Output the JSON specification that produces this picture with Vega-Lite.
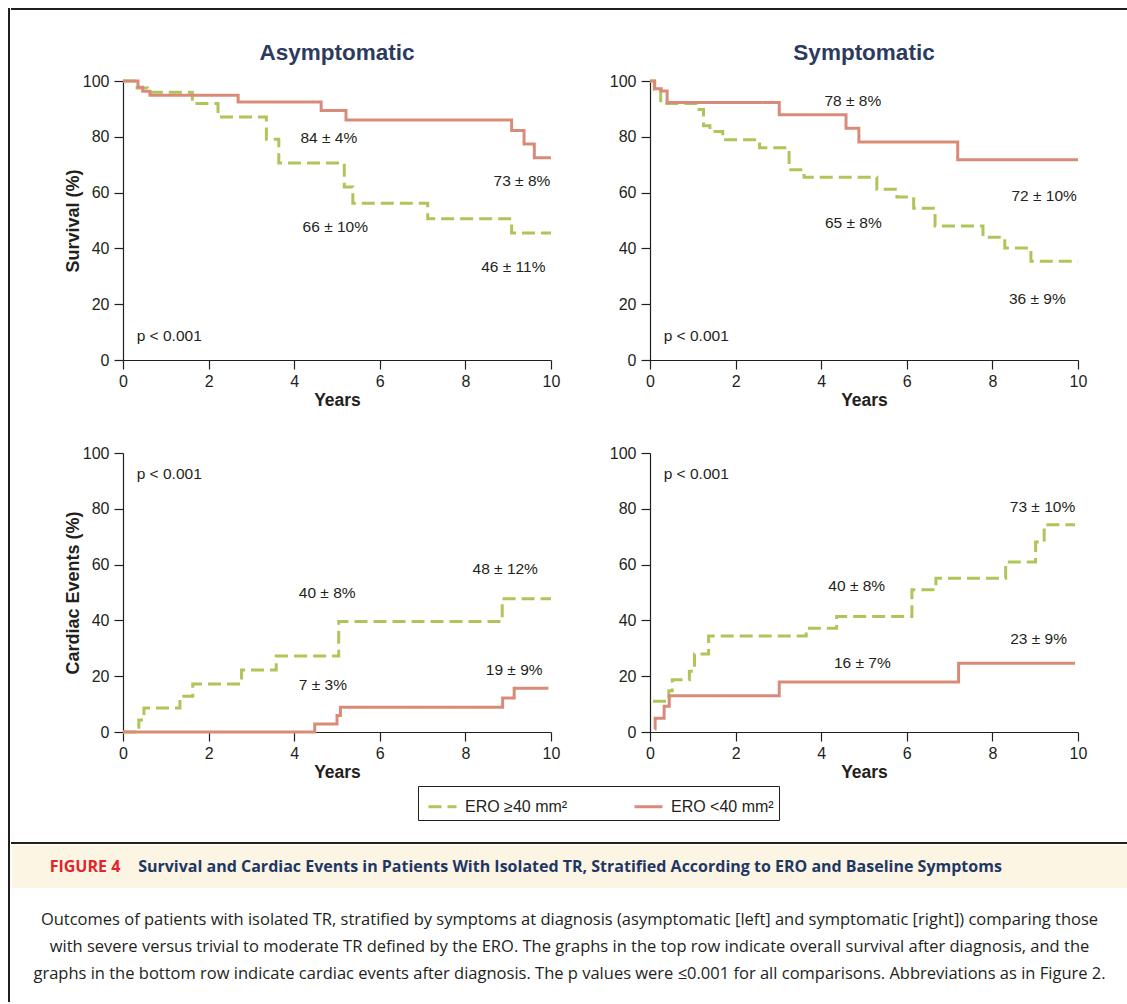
{
  "$schema": "https://vega.github.io/schema/vega-lite/v6.json",
  "background": "white",
  "padding": {"left": 8, "top": 8, "right": 0, "bottom": 0},
  "datasets": {
    "curves": [
      {"p":"TL","group":"ERO ≥40 mm²","t":0,"v":100},{"p":"TL","group":"ERO ≥40 mm²","t":0.33,"v":97.5},{"p":"TL","group":"ERO ≥40 mm²","t":0.57,"v":96.0},{"p":"TL","group":"ERO ≥40 mm²","t":1.62,"v":91.9},{"p":"TL","group":"ERO ≥40 mm²","t":2.22,"v":87.1},{"p":"TL","group":"ERO ≥40 mm²","t":3.35,"v":79.1},{"p":"TL","group":"ERO ≥40 mm²","t":3.64,"v":70.6},{"p":"TL","group":"ERO ≥40 mm²","t":5.17,"v":62.0},{"p":"TL","group":"ERO ≥40 mm²","t":5.37,"v":56.2},{"p":"TL","group":"ERO ≥40 mm²","t":7.12,"v":50.6},{"p":"TL","group":"ERO ≥40 mm²","t":9.08,"v":45.5},{"p":"TL","group":"ERO ≥40 mm²","t":10,"v":45.5},
      {"p":"TL","group":"ERO <40 mm²","t":0,"v":100},{"p":"TL","group":"ERO <40 mm²","t":0.35,"v":97.8},{"p":"TL","group":"ERO <40 mm²","t":0.46,"v":96.3},{"p":"TL","group":"ERO <40 mm²","t":0.63,"v":94.9},{"p":"TL","group":"ERO <40 mm²","t":2.69,"v":92.5},{"p":"TL","group":"ERO <40 mm²","t":4.63,"v":89.4},{"p":"TL","group":"ERO <40 mm²","t":5.21,"v":86.0},{"p":"TL","group":"ERO <40 mm²","t":9.08,"v":82.3},{"p":"TL","group":"ERO <40 mm²","t":9.37,"v":77.4},{"p":"TL","group":"ERO <40 mm²","t":9.61,"v":72.5},{"p":"TL","group":"ERO <40 mm²","t":10,"v":72.5},
      {"p":"TR","group":"ERO ≥40 mm²","t":0,"v":100},{"p":"TR","group":"ERO ≥40 mm²","t":0.1,"v":97.0},{"p":"TR","group":"ERO ≥40 mm²","t":0.25,"v":91.9},{"p":"TR","group":"ERO ≥40 mm²","t":1.08,"v":89.8},{"p":"TR","group":"ERO ≥40 mm²","t":1.25,"v":84.0},{"p":"TR","group":"ERO ≥40 mm²","t":1.4,"v":81.9},{"p":"TR","group":"ERO ≥40 mm²","t":1.7,"v":78.9},{"p":"TR","group":"ERO ≥40 mm²","t":2.56,"v":76.1},{"p":"TR","group":"ERO ≥40 mm²","t":3.25,"v":68.2},{"p":"TR","group":"ERO ≥40 mm²","t":3.6,"v":65.5},{"p":"TR","group":"ERO ≥40 mm²","t":5.3,"v":61.2},{"p":"TR","group":"ERO ≥40 mm²","t":5.77,"v":58.4},{"p":"TR","group":"ERO ≥40 mm²","t":6.16,"v":54.4},{"p":"TR","group":"ERO ≥40 mm²","t":6.66,"v":48.0},{"p":"TR","group":"ERO ≥40 mm²","t":7.78,"v":44.0},{"p":"TR","group":"ERO ≥40 mm²","t":8.29,"v":40.1},{"p":"TR","group":"ERO ≥40 mm²","t":8.9,"v":35.4},{"p":"TR","group":"ERO ≥40 mm²","t":10,"v":35.4},
      {"p":"TR","group":"ERO <40 mm²","t":0,"v":100},{"p":"TR","group":"ERO <40 mm²","t":0.11,"v":97.2},{"p":"TR","group":"ERO <40 mm²","t":0.26,"v":96.4},{"p":"TR","group":"ERO <40 mm²","t":0.4,"v":92.3},{"p":"TR","group":"ERO <40 mm²","t":3.02,"v":87.9},{"p":"TR","group":"ERO <40 mm²","t":4.58,"v":83.1},{"p":"TR","group":"ERO <40 mm²","t":4.88,"v":78.1},{"p":"TR","group":"ERO <40 mm²","t":7.19,"v":71.8},{"p":"TR","group":"ERO <40 mm²","t":10,"v":71.8},
      {"p":"BL","group":"ERO ≥40 mm²","t":0,"v":0},{"p":"BL","group":"ERO ≥40 mm²","t":0.37,"v":4.3},{"p":"BL","group":"ERO ≥40 mm²","t":0.49,"v":8.6},{"p":"BL","group":"ERO ≥40 mm²","t":1.33,"v":12.8},{"p":"BL","group":"ERO ≥40 mm²","t":1.63,"v":17.2},{"p":"BL","group":"ERO ≥40 mm²","t":2.77,"v":22.2},{"p":"BL","group":"ERO ≥40 mm²","t":3.58,"v":27.2},{"p":"BL","group":"ERO ≥40 mm²","t":5.04,"v":39.6},{"p":"BL","group":"ERO ≥40 mm²","t":8.86,"v":47.8},{"p":"BL","group":"ERO ≥40 mm²","t":10,"v":47.8},
      {"p":"BL","group":"ERO <40 mm²","t":0,"v":0},{"p":"BL","group":"ERO <40 mm²","t":4.48,"v":2.9},{"p":"BL","group":"ERO <40 mm²","t":5.0,"v":5.9},{"p":"BL","group":"ERO <40 mm²","t":5.08,"v":8.9},{"p":"BL","group":"ERO <40 mm²","t":8.87,"v":12.2},{"p":"BL","group":"ERO <40 mm²","t":9.14,"v":15.7},{"p":"BL","group":"ERO <40 mm²","t":9.94,"v":15.7},
      {"p":"BR","group":"ERO ≥40 mm²","t":0.07,"v":11.0},{"p":"BR","group":"ERO ≥40 mm²","t":0.44,"v":14.8},{"p":"BR","group":"ERO ≥40 mm²","t":0.52,"v":18.7},{"p":"BR","group":"ERO ≥40 mm²","t":0.92,"v":21.8},{"p":"BR","group":"ERO ≥40 mm²","t":1.04,"v":28.0},{"p":"BR","group":"ERO ≥40 mm²","t":1.37,"v":34.4},{"p":"BR","group":"ERO ≥40 mm²","t":3.65,"v":37.2},{"p":"BR","group":"ERO ≥40 mm²","t":4.36,"v":41.4},{"p":"BR","group":"ERO ≥40 mm²","t":6.12,"v":51.0},{"p":"BR","group":"ERO ≥40 mm²","t":6.68,"v":55.1},{"p":"BR","group":"ERO ≥40 mm²","t":8.31,"v":60.9},{"p":"BR","group":"ERO ≥40 mm²","t":9.01,"v":68.1},{"p":"BR","group":"ERO ≥40 mm²","t":9.21,"v":74.3},{"p":"BR","group":"ERO ≥40 mm²","t":9.93,"v":74.3},
      {"p":"BR","group":"ERO <40 mm²","t":0.11,"v":1.1},{"p":"BR","group":"ERO <40 mm²","t":0.12,"v":4.9},{"p":"BR","group":"ERO <40 mm²","t":0.33,"v":9.2},{"p":"BR","group":"ERO <40 mm²","t":0.45,"v":13.0},{"p":"BR","group":"ERO <40 mm²","t":3.02,"v":17.9},{"p":"BR","group":"ERO <40 mm²","t":7.21,"v":24.6},{"p":"BR","group":"ERO <40 mm²","t":9.93,"v":24.6}
    ],
    "labels": [
      {"p":"TL","kind":"v","t":4.81,"v":79.5,"text":"84 ± 4%"},{"p":"TL","kind":"v","t":9.32,"v":64.3,"text":"73 ± 8%"},{"p":"TL","kind":"v","t":4.96,"v":47.6,"text":"66 ± 10%"},{"p":"TL","kind":"v","t":9.12,"v":33.2,"text":"46 ± 11%"},{"p":"TL","kind":"p","t":0.32,"v":8.7,"text":"p < 0.001"},
      {"p":"TR","kind":"v","t":4.74,"v":93.0,"text":"78 ± 8%"},{"p":"TR","kind":"v","t":9.21,"v":58.7,"text":"72 ± 10%"},{"p":"TR","kind":"v","t":4.75,"v":49.0,"text":"65 ± 8%"},{"p":"TR","kind":"v","t":9.05,"v":21.9,"text":"36 ± 9%"},{"p":"TR","kind":"p","t":0.32,"v":8.7,"text":"p < 0.001"},
      {"p":"BL","kind":"v","t":4.77,"v":49.9,"text":"40 ± 8%"},{"p":"BL","kind":"v","t":8.93,"v":58.5,"text":"48 ± 12%"},{"p":"BL","kind":"v","t":4.67,"v":17.0,"text":"7 ± 3%"},{"p":"BL","kind":"v","t":9.14,"v":22.4,"text":"19 ± 9%"},{"p":"BL","kind":"p","t":0.32,"v":92.6,"text":"p < 0.001"},
      {"p":"BR","kind":"v","t":9.17,"v":80.6,"text":"73 ± 10%"},{"p":"BR","kind":"v","t":4.83,"v":52.3,"text":"40 ± 8%"},{"p":"BR","kind":"v","t":9.08,"v":33.4,"text":"23 ± 9%"},{"p":"BR","kind":"v","t":4.96,"v":24.8,"text":"16 ± 7%"},{"p":"BR","kind":"p","t":0.32,"v":92.6,"text":"p < 0.001"}
    ],
    "caption": [
      {"line":1,"text":"Outcomes of patients with isolated TR, stratified by symptoms at diagnosis (asymptomatic [left] and symptomatic [right]) comparing those"},
      {"line":2,"text":"with severe versus trivial to moderate TR defined by the ERO. The graphs in the top row indicate overall survival after diagnosis, and the"},
      {"line":3,"text":"graphs in the bottom row indicate cardiac events after diagnosis. The p values were ≤0.001 for all comparisons. Abbreviations as in Figure 2."}
    ]
  },
  "resolve": {"legend": {"color": "independent", "strokeDash": "independent"}},
  "spacing": 0,
  "hconcat": [
    {"width": 0.01, "height": 992, "data": {"values": []}, "mark": "point", "view": {"stroke": "#231F20", "strokeWidth": 2}},
    {
      "spacing": 30,
      "resolve": {"legend": {"color": "independent", "strokeDash": "independent"}},
      "vconcat": [
        {"width": 1115, "height": 0.01, "data": {"values": []}, "mark": "point", "view": {"stroke": "#231F20", "strokeWidth": 2}},
        {
          "spacing": 21,
          "resolve": {"legend": {"color": "independent", "strokeDash": "independent"}},
          "vconcat": [
            {
              "spacing": 0,
              "resolve": {"legend": {"color": "independent", "strokeDash": "independent"}},
              "hconcat": [
                {"width": 52, "height": 0.01, "data": {"values": []}, "mark": "point"},
                {
                  "columns": 2,
                  "spacing": {"row": 93, "column": 99},
                  "bounds": "flush",
                  "concat": [
                    {
                      "width": 428, "height": 279,
                      "title": {"text": "Asymptomatic"},
                      "layer": [
                        {"data": {"name": "curves"}, "transform": [{"filter": "datum.p == 'TL'"}],
                         "mark": {"type": "line", "interpolate": "step-after", "strokeWidth": 3},
                         "encoding": {
                           "x": {"field": "t", "type": "quantitative", "scale": {"domain": [0, 10], "nice": false}, "axis": {"values": [0, 2, 4, 6, 8, 10], "title": "Years"}},
                           "y": {"field": "v", "type": "quantitative", "scale": {"domain": [0, 100], "nice": false}, "axis": {"values": [0, 20, 40, 60, 80, 100], "title": "Survival (%)"}},
                           "color": {"field": "group", "type": "nominal", "scale": {"domain": ["ERO ≥40 mm²", "ERO <40 mm²"], "range": ["#AEC55A", "#D98B79"]}, "legend": {"title": null, "orient": "none", "legendX": 295, "legendY": 705}},
                           "strokeDash": {"field": "group", "type": "nominal", "scale": {"domain": ["ERO ≥40 mm²", "ERO <40 mm²"], "range": [[13, 6], [1, 0]]}, "legend": {"title": null, "orient": "none", "legendX": 295, "legendY": 705}}
                         }},
                        {"data": {"name": "labels"}, "transform": [{"filter": "datum.p == 'TL' && datum.kind == 'v'"}],
                         "mark": {"type": "text", "align": "center", "baseline": "middle", "fontSize": 15.5, "font": "Liberation Sans", "color": "#231F20"},
                         "encoding": {"x": {"field": "t", "type": "quantitative"}, "y": {"field": "v", "type": "quantitative"}, "text": {"field": "text"}}},
                        {"data": {"name": "labels"}, "transform": [{"filter": "datum.p == 'TL' && datum.kind == 'p'"}],
                         "mark": {"type": "text", "align": "left", "baseline": "middle", "fontSize": 15.5, "font": "Liberation Sans", "color": "#231F20"},
                         "encoding": {"x": {"field": "t", "type": "quantitative"}, "y": {"field": "v", "type": "quantitative"}, "text": {"field": "text"}}}
                      ]
                    },
                    {
                      "width": 428, "height": 279,
                      "title": {"text": "Symptomatic"},
                      "layer": [
                        {"data": {"name": "curves"}, "transform": [{"filter": "datum.p == 'TR'"}],
                         "mark": {"type": "line", "interpolate": "step-after", "strokeWidth": 3},
                         "encoding": {
                           "x": {"field": "t", "type": "quantitative", "scale": {"domain": [0, 10], "nice": false}, "axis": {"values": [0, 2, 4, 6, 8, 10], "title": "Years"}},
                           "y": {"field": "v", "type": "quantitative", "scale": {"domain": [0, 100], "nice": false}, "axis": {"values": [0, 20, 40, 60, 80, 100], "title": null}},
                           "color": {"field": "group", "type": "nominal", "scale": {"domain": ["ERO ≥40 mm²", "ERO <40 mm²"], "range": ["#AEC55A", "#D98B79"]}, "legend": {"title": null, "orient": "none", "legendX": 295, "legendY": 705}},
                           "strokeDash": {"field": "group", "type": "nominal", "scale": {"domain": ["ERO ≥40 mm²", "ERO <40 mm²"], "range": [[13, 6], [1, 0]]}, "legend": {"title": null, "orient": "none", "legendX": 295, "legendY": 705}}
                         }},
                        {"data": {"name": "labels"}, "transform": [{"filter": "datum.p == 'TR' && datum.kind == 'v'"}],
                         "mark": {"type": "text", "align": "center", "baseline": "middle", "fontSize": 15.5, "font": "Liberation Sans", "color": "#231F20"},
                         "encoding": {"x": {"field": "t", "type": "quantitative"}, "y": {"field": "v", "type": "quantitative"}, "text": {"field": "text"}}},
                        {"data": {"name": "labels"}, "transform": [{"filter": "datum.p == 'TR' && datum.kind == 'p'"}],
                         "mark": {"type": "text", "align": "left", "baseline": "middle", "fontSize": 15.5, "font": "Liberation Sans", "color": "#231F20"},
                         "encoding": {"x": {"field": "t", "type": "quantitative"}, "y": {"field": "v", "type": "quantitative"}, "text": {"field": "text"}}}
                      ]
                    },
                    {
                      "width": 428, "height": 279,
                      "layer": [
                        {"data": {"name": "curves"}, "transform": [{"filter": "datum.p == 'BL'"}],
                         "mark": {"type": "line", "interpolate": "step-after", "strokeWidth": 3},
                         "encoding": {
                           "x": {"field": "t", "type": "quantitative", "scale": {"domain": [0, 10], "nice": false}, "axis": {"values": [0, 2, 4, 6, 8, 10], "title": "Years"}},
                           "y": {"field": "v", "type": "quantitative", "scale": {"domain": [0, 100], "nice": false}, "axis": {"values": [0, 20, 40, 60, 80, 100], "title": "Cardiac Events (%)"}},
                           "color": {"field": "group", "type": "nominal", "scale": {"domain": ["ERO ≥40 mm²", "ERO <40 mm²"], "range": ["#AEC55A", "#D98B79"]}, "legend": {"title": null, "orient": "none", "legendX": 295, "legendY": 705}},
                           "strokeDash": {"field": "group", "type": "nominal", "scale": {"domain": ["ERO ≥40 mm²", "ERO <40 mm²"], "range": [[13, 6], [1, 0]]}, "legend": {"title": null, "orient": "none", "legendX": 295, "legendY": 705}}
                         }},
                        {"data": {"name": "labels"}, "transform": [{"filter": "datum.p == 'BL' && datum.kind == 'v'"}],
                         "mark": {"type": "text", "align": "center", "baseline": "middle", "fontSize": 15.5, "font": "Liberation Sans", "color": "#231F20"},
                         "encoding": {"x": {"field": "t", "type": "quantitative"}, "y": {"field": "v", "type": "quantitative"}, "text": {"field": "text"}}},
                        {"data": {"name": "labels"}, "transform": [{"filter": "datum.p == 'BL' && datum.kind == 'p'"}],
                         "mark": {"type": "text", "align": "left", "baseline": "middle", "fontSize": 15.5, "font": "Liberation Sans", "color": "#231F20"},
                         "encoding": {"x": {"field": "t", "type": "quantitative"}, "y": {"field": "v", "type": "quantitative"}, "text": {"field": "text"}}}
                      ]
                    },
                    {
                      "width": 428, "height": 279,
                      "layer": [
                        {"data": {"name": "curves"}, "transform": [{"filter": "datum.p == 'BR'"}],
                         "mark": {"type": "line", "interpolate": "step-after", "strokeWidth": 3},
                         "encoding": {
                           "x": {"field": "t", "type": "quantitative", "scale": {"domain": [0, 10], "nice": false}, "axis": {"values": [0, 2, 4, 6, 8, 10], "title": "Years"}},
                           "y": {"field": "v", "type": "quantitative", "scale": {"domain": [0, 100], "nice": false}, "axis": {"values": [0, 20, 40, 60, 80, 100], "title": null}},
                           "color": {"field": "group", "type": "nominal", "scale": {"domain": ["ERO ≥40 mm²", "ERO <40 mm²"], "range": ["#AEC55A", "#D98B79"]}, "legend": {"title": null, "orient": "none", "legendX": 295, "legendY": 705}},
                           "strokeDash": {"field": "group", "type": "nominal", "scale": {"domain": ["ERO ≥40 mm²", "ERO <40 mm²"], "range": [[13, 6], [1, 0]]}, "legend": {"title": null, "orient": "none", "legendX": 295, "legendY": 705}}
                         }},
                        {"data": {"name": "labels"}, "transform": [{"filter": "datum.p == 'BR' && datum.kind == 'v'"}],
                         "mark": {"type": "text", "align": "center", "baseline": "middle", "fontSize": 15.5, "font": "Liberation Sans", "color": "#231F20"},
                         "encoding": {"x": {"field": "t", "type": "quantitative"}, "y": {"field": "v", "type": "quantitative"}, "text": {"field": "text"}}},
                        {"data": {"name": "labels"}, "transform": [{"filter": "datum.p == 'BR' && datum.kind == 'p'"}],
                         "mark": {"type": "text", "align": "left", "baseline": "middle", "fontSize": 15.5, "font": "Liberation Sans", "color": "#231F20"},
                         "encoding": {"x": {"field": "t", "type": "quantitative"}, "y": {"field": "v", "type": "quantitative"}, "text": {"field": "text"}}}
                      ]
                    }
                  ]
                }
              ]
            },
            {
              "spacing": 0,
              "vconcat": [
                {"width": 1115, "height": 0.01, "data": {"values": []}, "mark": "point", "view": {"stroke": "#231F20", "strokeWidth": 2}},
                {
                  "spacing": 0,
                  "bounds": "flush",
                  "hconcat": [
                    {"width": 32, "height": 43, "view": {"fill": "#FCF5E4", "stroke": null}, "data": {"values": []}, "mark": "point"},
                    {"width": 82, "height": 43, "view": {"fill": "#FCF5E4", "stroke": null}, "data": {"values": [{"s": "FIGURE 4"}]},
                     "mark": {"type": "text", "font": "Open Sans", "fontWeight": "bold", "fontSize": 16, "color": "#E1252B"},
                     "encoding": {"text": {"field": "s"}}},
                    {"width": 888, "height": 43, "view": {"fill": "#FCF5E4", "stroke": null}, "data": {"values": [{"s": "Survival and Cardiac Events in Patients With Isolated TR, Stratified According to ERO and Baseline Symptoms"}]},
                     "mark": {"type": "text", "font": "Open Sans", "fontWeight": "bold", "fontSize": 16, "color": "#1F3764"},
                     "encoding": {"text": {"field": "s"}}},
                    {"width": 113, "height": 43, "view": {"fill": "#FCF5E4", "stroke": null}, "data": {"values": []}, "mark": "point"}
                  ]
                },
                {"width": 1115, "height": 112, "data": {"name": "caption"},
                 "mark": {"type": "text", "font": "Open Sans", "fontSize": 16.5, "color": "#231F20"},
                 "encoding": {
                   "y": {"field": "line", "type": "ordinal", "axis": null, "scale": {"type": "band", "paddingInner": 0, "paddingOuter": 0.574, "align": 0.6}},
                   "text": {"field": "text"}
                 }}
              ]
            }
          ]
        }
      ]
    }
  ],
  "config": {
    "view": {"stroke": null},
    "font": "Liberation Sans",
    "title": {"font": "Liberation Sans", "fontSize": 22.5, "fontWeight": "bold", "color": "#2C3A5E", "offset": 9},
    "axis": {"grid": false, "domainColor": "#231F20", "domainWidth": 1.2, "tickColor": "#231F20", "tickWidth": 1.2, "tickSize": 9, "labelFont": "Liberation Sans", "labelFontSize": 16, "labelColor": "#231F20", "titleFont": "Liberation Sans", "titleFontSize": 17.5, "titleFontWeight": "bold", "titleColor": "#231F20"},
    "axisX": {"labelPadding": 4, "titlePadding": 2, "labelFlush": false},
    "axisY": {"labelPadding": 5, "titlePadding": 0, "titleFontSize": 18},
    "legend": {"direction": "horizontal", "strokeColor": "#231F20", "padding": 5, "labelFont": "Liberation Sans", "labelFontSize": 16, "labelColor": "#231F20", "symbolType": "stroke", "symbolStrokeWidth": 3, "symbolSize": 784, "symbolOffset": 4, "columnPadding": 60, "labelOffset": 7, "labelLimit": 0}
  }
}
